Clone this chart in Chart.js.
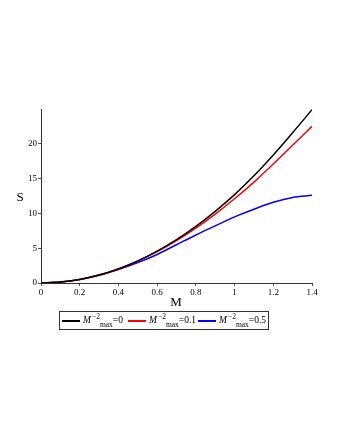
<!DOCTYPE html>
<html>
<head>
<meta charset="utf-8">
<script src="https://cdn.jsdelivr.net/npm/chart.js@4"></script>
<style>
  body { margin: 0; background: #fff; }
  #wrap { position: relative; width: 340px; height: 440px; }
  .lbl { position: absolute; transform: translate(-50%, -50%); font-family: "Liberation Serif", serif; font-size: 13px; color: #000; }
  #legend { position: absolute; left: 59px; top: 311px; width: 210px; height: 19px; border: 1px solid #333;
            font-family: "Liberation Serif", serif; font-size: 9.5px; color: #000; box-sizing: border-box; }
  .item { position: absolute; top: 0; height: 17px; line-height: 17px; white-space: nowrap; }
  .swatch { display: inline-block; width: 18px; height: 1.5px; margin-right: 3px; vertical-align: middle; }
  sup, sub { font-size: 7.5px; line-height: 0; position: relative; vertical-align: baseline; }
  sup { top: -4px; margin-left: 1px; }
  sub { top: 4px; }
</style>
</head>
<body>
<div id="wrap">
  <canvas id="myChart" width="340" height="440"></canvas>
  <div class="lbl" style="left:20px; top:197px;">S</div>
  <div class="lbl" style="left:176px; top:302px;">M</div>
  <div id="legend">
    <div class="item" style="left:2px;"><span class="swatch" style="background:#000"></span><i>M</i><sup>−2</sup><sub>max</sub>=0</div>
    <div class="item" style="left:68px;"><span class="swatch" style="background:#f00"></span><i>M</i><sup>−2</sup><sub>max</sub>=0.1</div>
    <div class="item" style="left:138px;"><span class="swatch" style="background:#00f"></span><i>M</i><sup>−2</sup><sub>max</sub>=0.5</div>
  </div>
</div>
<script>
//the data
const mValues = [0, 0.1, 0.2, 0.3, 0.4, 0.5, 0.6, 0.7, 0.8, 0.9, 1.0, 1.1, 1.2, 1.3, 1.4]
const sZero = [0, 0.13, 0.51, 1.14, 2.03, 3.17, 4.57, 6.22, 8.13, 10.3, 12.7, 15.4, 18.4, 21.6, 24.9]
const sTenth = [0, 0.13, 0.51, 1.14, 2.02, 3.14, 4.50, 6.08, 7.88, 9.9, 12.1, 14.5, 17.1, 19.8, 22.5]
const sHalf = [0, 0.13, 0.50, 1.11, 1.95, 2.95, 4.1, 5.5, 6.9, 8.2, 9.5, 10.6, 11.6, 12.3, 12.6]
const xTicks = [0, 0.2, 0.4, 0.6, 0.8, 1, 1.2, 1.4]
const yTicks = [0, 5, 10, 15, 20]

const ctx = document.getElementById('myChart').getContext('2d')

function toPoints(ys) {
    return mValues.map((m, i) => ({ x: m, y: ys[i] }))
}

function series(ys, color) {
    return {
        data: toPoints(ys),
        borderColor: color,
        borderWidth: 1.5,
        pointRadius: 0,
        fill: false,
        cubicInterpolationMode: 'monotone'
    }
}

const tickFont = { family: 'Liberation Serif', size: 9 }

var chart = new Chart(ctx, {
    type: 'line',
    data: {
        datasets: [
            series(sZero, '#000000'),
            series(sTenth, '#ff0000'),
            series(sHalf, '#0000ff')
        ]
    },
    options: {
        responsive: false,
        animation: false,
        layout: { padding: { left: 0, right: 28, top: 109, bottom: 0 } },
        plugins: { legend: { display: false }, tooltip: { enabled: false } },
        scales: {
            x: {
                type: 'linear',
                min: 0,
                max: 1.4,
                afterFit: (scale) => { scale.height = 157 },
                afterBuildTicks: (scale) => { scale.ticks = xTicks.map(v => ({ value: v })) },
                grid: { drawOnChartArea: false, tickLength: 3, color: '#555' },
                border: { color: '#333', width: 1 },
                ticks: { font: tickFont, color: '#000', padding: 1, maxRotation: 0,
                         callback: (v) => String(Math.round(v * 10) / 10) }
            },
            y: {
                min: 0,
                max: 25,
                afterFit: (scale) => { scale.width = 41 },
                afterBuildTicks: (scale) => { scale.ticks = yTicks.map(v => ({ value: v })) },
                grid: { drawOnChartArea: false, tickLength: 3, color: '#555' },
                border: { color: '#333', width: 1 },
                ticks: { font: tickFont, color: '#000', padding: 1 }
            }
        }
    }
})
</script>
</body>
</html>
